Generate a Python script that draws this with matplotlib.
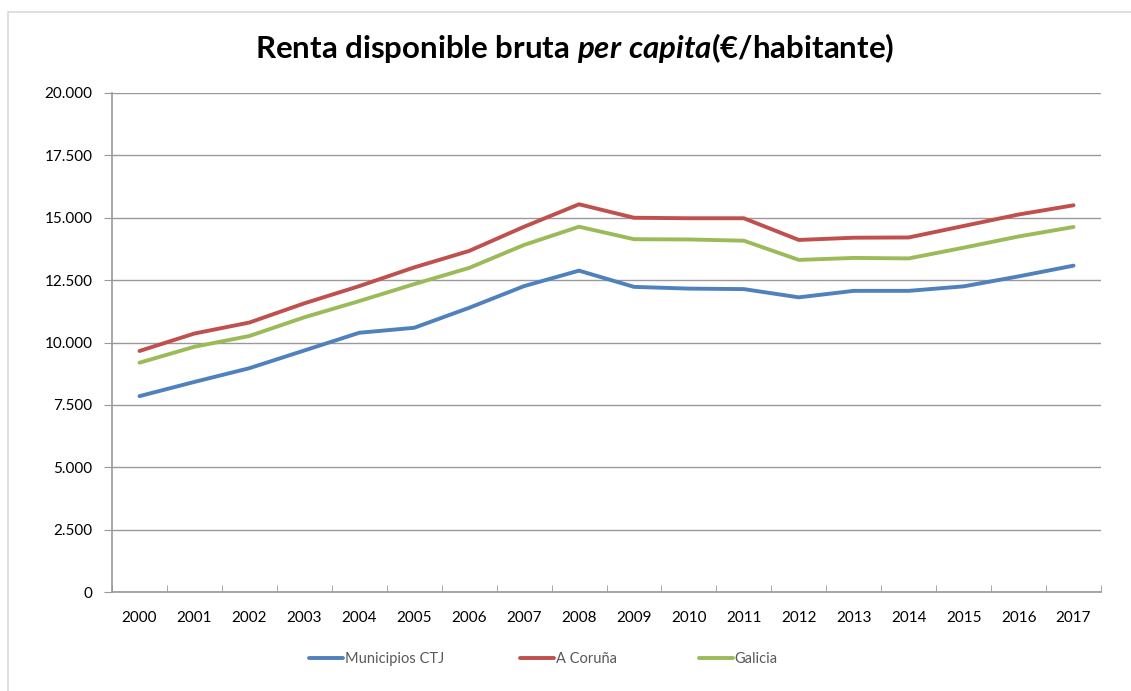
import matplotlib
matplotlib.use("Agg")
import matplotlib.pyplot as plt
from matplotlib.ticker import FuncFormatter, MultipleLocator, FixedLocator
from matplotlib.patches import Rectangle

years = list(range(2000, 2018))
ctj = [7850, 8420, 8970, 9680, 10390, 10590, 11390, 12260, 12880,
       12230, 12160, 12140, 11810, 12070, 12070, 12250, 12650, 13080]
coruna = [9660, 10360, 10800, 11570, 12260, 13010, 13670, 14640, 15540,
          15000, 14980, 14980, 14110, 14200, 14210, 14670, 15130, 15500]
galicia = [9190, 9830, 10260, 11010, 11660, 12340, 12990, 13910, 14640,
           14140, 14130, 14080, 13310, 13390, 13370, 13800, 14250, 14630]
series_names = ["Municipios CTJ", "A Coruña", "Galicia"]
colors = ["#4F81BD", "#C0504D", "#9BBB59"]

plt.rcParams['font.family'] = ['Lato', 'DejaVu Sans']
plt.rcParams['mathtext.fontset'] = 'custom'
plt.rcParams['mathtext.it'] = 'Lato:italic:bold'
plt.rcParams['mathtext.rm'] = 'Lato:bold'

fig = plt.figure(figsize=(11.31, 6.91), dpi=100)
fig.patches.append(Rectangle((8 / 1131, -0.1), 1.2, 1.1 - 12 / 691,
                             transform=fig.transFigure, fill=False,
                             edgecolor="#D9D9D9", linewidth=1.2))
ax = fig.add_axes([112 / 1131, 1 - 592 / 691, 989 / 1131, 499 / 691])

x = list(range(len(years)))
lines = []
for vals, name, c in zip([ctj, coruna, galicia], series_names, colors):
    ln, = ax.plot(x, vals, color=c, linewidth=2.8, label=name,
                  solid_capstyle="round", solid_joinstyle="round")
    lines.append(ln)

ax.set_xlim(-0.5, len(years) - 0.5)
ax.set_ylim(0, 20000)
ax.yaxis.set_major_locator(MultipleLocator(2500))
ax.yaxis.set_major_formatter(FuncFormatter(lambda v, p: f"{v:,.0f}".replace(",", ".")))
ax.set_xticks(x)
ax.set_xticklabels([str(y) for y in years])
ax.xaxis.set_minor_locator(FixedLocator([i - 0.5 for i in range(len(years) + 1)]))
ax.tick_params(axis="x", which="major", length=0, pad=14, labelsize=11)
ax.tick_params(axis="x", which="minor", length=5, color="#999999", direction="in")
ax.tick_params(axis="y", length=6, color="#999999", labelsize=11, pad=8)
ax.grid(axis="y", color="#999999", linewidth=1)
ax.set_axisbelow(True)
for s in ["top", "right"]:
    ax.spines[s].set_visible(False)
for s in ["left", "bottom"]:
    ax.spines[s].set_color("#999999")
    ax.spines[s].set_linewidth(1.2)

fig.text(0.508, 1 - 48 / 691, "Renta disponible bruta $per\\ capita$(€/habitante)",
         ha="center", va="center", fontsize=22.5, fontweight="bold")

# one legend per entry, placed like the original
leg_x = [309, 520, 699]
for ln, lx in zip(lines, leg_x):
    leg = fig.legend(handles=[ln], loc="center left",
                     bbox_to_anchor=(lx / 1131, 1 - 659 / 691),
                     frameon=False, fontsize=10.5, handlelength=2.3,
                     handletextpad=0.15, borderpad=0, borderaxespad=0)
    for t in leg.get_texts():
        t.set_color("#595959")

fig.savefig("out.png", dpi=100)
